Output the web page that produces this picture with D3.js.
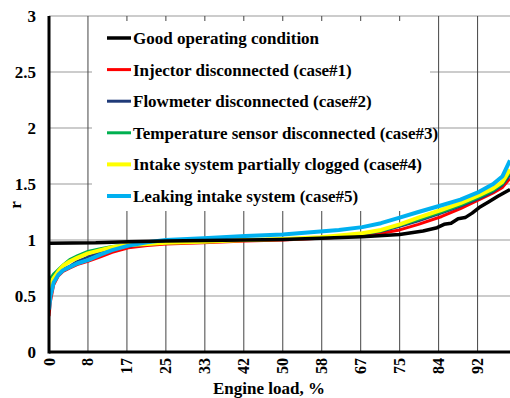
<!DOCTYPE html>
<html>
<head>
<meta charset="UTF-8">
<title>r vs engine load</title>
<script src="https://d3js.org/d3.v7.min.js"></script>
<style>
    body { margin: 0; background: #fff; }
    svg { display: block; }
</style>
</head>
<body>
<svg width="510" height="398"></svg>
<script>
    // engine load (%) sample points shared by the fault cases
    const loads = [0, 0.3, 1, 2, 3, 4.5, 6, 8.3, 11, 13.5, 17, 21, 25, 33, 42, 50, 58, 62, 67, 71, 75, 79, 84, 88, 92, 95, 97, 98.6];
    const injector = [0.32, 0.45, 0.60, 0.68, 0.72, 0.75, 0.78, 0.81, 0.85, 0.89, 0.93, 0.95, 0.965, 0.975, 0.99, 1.0, 1.015, 1.025, 1.04, 1.06, 1.09, 1.14, 1.21, 1.28, 1.36, 1.42, 1.47, 1.55];
    const flowmeter = [0.45, 0.55, 0.63, 0.70, 0.74, 0.77, 0.81, 0.85, 0.89, 0.92, 0.945, 0.96, 0.97, 0.98, 0.995, 1.005, 1.02, 1.03, 1.05, 1.075, 1.12, 1.17, 1.24, 1.30, 1.37, 1.43, 1.49, 1.58];
    const tempSensor = [0.62, 0.66, 0.70, 0.74, 0.78, 0.83, 0.86, 0.90, 0.925, 0.945, 0.96, 0.97, 0.975, 0.985, 1.0, 1.01, 1.02, 1.035, 1.055, 1.08, 1.13, 1.18, 1.25, 1.31, 1.38, 1.44, 1.50, 1.60];
    const intakeClogged = [0.55, 0.60, 0.66, 0.72, 0.77, 0.81, 0.84, 0.88, 0.91, 0.935, 0.955, 0.965, 0.975, 0.985, 1.0, 1.01, 1.025, 1.04, 1.06, 1.09, 1.14, 1.20, 1.27, 1.33, 1.40, 1.46, 1.52, 1.63];
    const leaking = [0.38, 0.50, 0.62, 0.69, 0.73, 0.76, 0.79, 0.82, 0.87, 0.91, 0.95, 0.98, 1.0, 1.015, 1.035, 1.05, 1.075, 1.09, 1.115, 1.15, 1.20, 1.25, 1.31, 1.36, 1.43, 1.50, 1.57, 1.71];

    // good operating condition has its own sampling (stepped tail)
    const goodLoads = [0, 10, 17, 25, 33, 42, 50, 58, 67, 75, 80, 83, 84.5, 86, 87.5, 89, 90.5, 92, 94, 96, 98.6];
    const good = [0.97, 0.975, 0.985, 0.99, 0.995, 1.0, 1.005, 1.015, 1.03, 1.05, 1.08, 1.11, 1.14, 1.15, 1.19, 1.2, 1.24, 1.29, 1.34, 1.39, 1.45];

    const seriesNames = ["Good operating condition", "Injector disconnected (case#1)", "Flowmeter disconnected (case#2)",
        "Temperature sensor disconnected (case#3)", "Intake system partially clogged (case#4)", "Leaking intake system (case#5)"];
    const seriesColors = ["#000000", "#ff0000", "#1f3a78", "#00b050", "#ffff00", "#00b0f0"];
    const seriesWidths = [3.5, 3, 2.5, 2.5, 4, 4];

    const yTicks = [0, 0.5, 1, 1.5, 2, 2.5, 3];
    const xTickLabels = ["0", "8", "17", "25", "33", "42", "50", "58", "67", "75", "84", "92"];
    const xTicks = xTickLabels.map((d, i) => i * 100 / 12);

    const svg = d3.select("svg");
    const mLeft = 49, mRight = 510, mTop = 16, mBottom = 352;

    const x = d3.scaleLinear().domain([0, 98.6]).range([mLeft, mRight]);
    const y = d3.scaleLinear().domain([0, 3]).range([mBottom, mTop]);

    // grid
    svg.append("g").selectAll("line").data(yTicks.slice(1)).join("line")
        .attr("x1", mLeft).attr("x2", mRight)
        .attr("y1", d => y(d)).attr("y2", d => y(d))
        .attr("stroke", "#999").attr("stroke-width", 1.2);
    svg.append("g").selectAll("line").data(xTicks.slice(1)).join("line")
        .attr("x1", d => x(d)).attr("x2", d => x(d))
        .attr("y1", mTop).attr("y2", mBottom)
        .attr("stroke", "#444").attr("stroke-width", 1);

    // legend box hides the grid behind it
    svg.append("rect").attr("x", 92).attr("y", 21).attr("width", 338).attr("height", 190).attr("fill", "#fff");

    svg.append("clipPath").attr("id", "plot").append("rect")
        .attr("x", mLeft).attr("y", mTop).attr("width", mRight - mLeft).attr("height", mBottom - mTop);

    const line = d3.line().x(d => x(d[0])).y(d => y(d[1]));
    const curves = [
        { xs: loads, ys: injector, i: 1 },
        { xs: loads, ys: flowmeter, i: 2 },
        { xs: loads, ys: tempSensor, i: 3 },
        { xs: loads, ys: intakeClogged, i: 4 },
        { xs: loads, ys: leaking, i: 5 },
        { xs: goodLoads, ys: good, i: 0 }
    ];
    svg.append("g").attr("clip-path", "url(#plot)").selectAll("path").data(curves).join("path")
        .attr("d", c => line(c.xs.map((v, k) => [v, c.ys[k]])))
        .attr("fill", "none")
        .attr("stroke", c => seriesColors[c.i])
        .attr("stroke-width", c => seriesWidths[c.i])
        .attr("stroke-linejoin", "round");

    // axes lines
    svg.append("line").attr("x1", mLeft).attr("x2", mLeft).attr("y1", mTop).attr("y2", mBottom + 1.5)
        .attr("stroke", "#000").attr("stroke-width", 3);
    svg.append("line").attr("x1", mLeft).attr("x2", mRight).attr("y1", mBottom).attr("y2", mBottom)
        .attr("stroke", "#000").attr("stroke-width", 3);

    // tick labels
    svg.append("g").selectAll("text").data(yTicks).join("text")
        .attr("x", 36).attr("y", d => y(d) + 6)
        .attr("text-anchor", "end").attr("font-size", 17)
        .text(d => d);
    svg.append("g").selectAll("text").data(xTicks).join("text")
        .attr("transform", d => `translate(${x(d) + 5.5},358) rotate(-90)`)
        .attr("text-anchor", "end").attr("font-size", 16)
        .text((d, i) => xTickLabels[i]);

    // axis titles
    svg.append("text").attr("x", 269).attr("y", 394).attr("text-anchor", "middle")
        .attr("font-size", 17).text("Engine load, %");
    svg.append("text").attr("transform", "translate(21,205) rotate(-90)").attr("text-anchor", "middle")
        .attr("font-size", 17).text("r");

    // legend
    const leg = svg.append("g").selectAll("g").data(seriesNames).join("g")
        .attr("transform", (d, i) => `translate(107,${38 + i * 31.6})`);
    leg.append("line").attr("x1", 0).attr("x2", 24)
        .attr("stroke", (d, i) => seriesColors[i])
        .attr("stroke-width", (d, i) => Math.max(seriesWidths[i], 3));
    leg.append("text").attr("x", 26).attr("y", 6).attr("font-size", 17).text(d => d);

    // serif bold on every text
    svg.selectAll("text")
        .style("font-family", "Liberation Serif")
        .style("font-weight", "bold");
</script>
</body>
</html>
